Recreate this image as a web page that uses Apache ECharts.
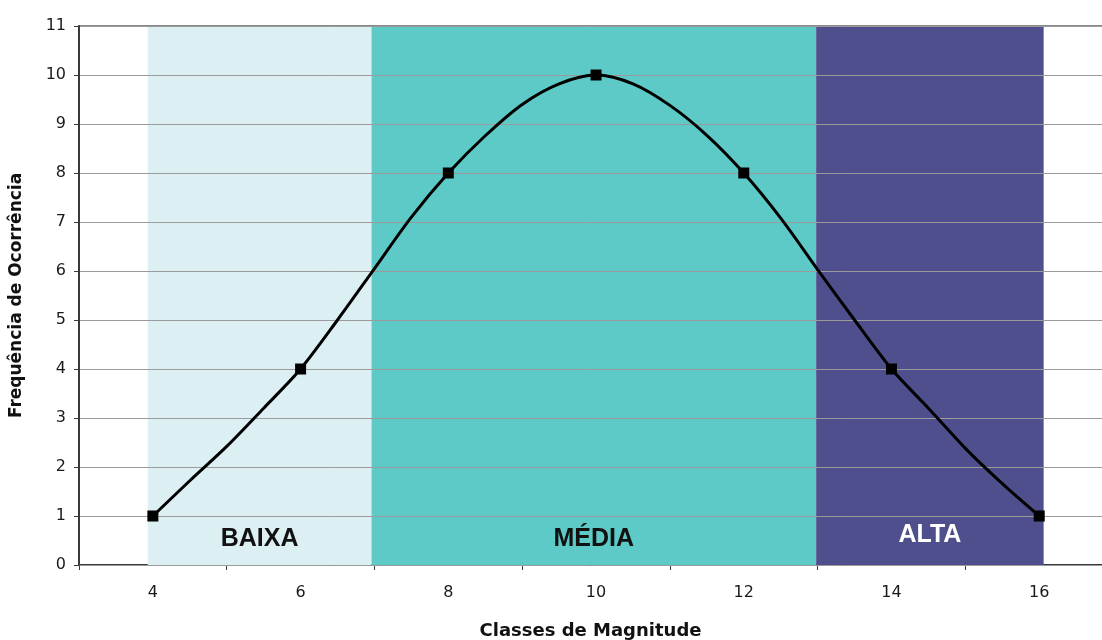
<!DOCTYPE html>
<html>
<head>
<meta charset="utf-8">
<script src="https://cdn.jsdelivr.net/npm/echarts@6/dist/echarts.min.js"></script>
<style>html,body{margin:0;padding:0;background:#fff;overflow:hidden}#c{width:1102px;height:640px}</style>
</head>
<body>
<div id="c"></div>
<script>
// Classes de magnitude and frequency of occurrence (curve)
const classes = [4, 4.5, 5, 5.5, 6, 6.5, 7, 7.5, 8, 8.5, 9, 9.5, 10, 10.5, 11, 11.5, 12, 12.5, 13, 13.5, 14, 14.5, 15, 15.5, 16];
const freq    = [1, 1.72, 2.42, 3.2, 4, 5, 6.05, 7.1, 8, 8.76, 9.4, 9.82, 10, 9.82, 9.38, 8.77, 8, 7.08, 6.03, 5, 4, 3.2, 2.38, 1.66, 1];
const markerClasses = [4, 6, 8, 10, 12, 14, 16];
const xLabelValues = [4, 6, 8, 10, 12, 14, 16];
const xTickValues = [3, 5, 7, 9, 11, 13, 15];
const bandNames = ['BAIXA', 'MÉDIA', 'ALTA'];
const bandStart = [3.93, 6.96, 12.98];
const bandEnd   = [6.96, 12.98, 16.06];
const bandColors = ['#dcf0f4', '#5ecac7', '#4f4f8e'];
const bandTextColors = ['#111111', '#111111', '#ffffff'];

const chart = echarts.init(document.getElementById('c'));
const points = classes.map((x, i) => [x, freq[i]]);

chart.setOption({
  animation: false,
  backgroundColor: '#ffffff',
  grid: { left: 79, top: 26, right: 0, bottom: 75, containLabel: false, outerBoundsMode: 'none' },
  xAxis: [{
    type: 'value', min: 3, max: 16.85, interval: 1,
    name: 'Classes de Magnitude', nameLocation: 'middle', nameGap: 57,
    nameTextStyle: { fontFamily: 'DejaVu Sans', fontWeight: 'bold', fontSize: 18, color: '#111' },
    axisLine: { show: true, lineStyle: { color: '#3a3a3a', width: 2 } },
    axisTick: { show: true, customValues: xTickValues, length: 5, lineStyle: { color: '#3a3a3a', width: 1 } },
    axisLabel: { customValues: xLabelValues, margin: 20, fontFamily: 'DejaVu Sans', fontSize: 16, color: '#1a1a1a' },
    splitLine: { show: false }
  }, {
    type: 'value', position: 'top', min: 3, max: 16.85,
    axisLine: { show: true, lineStyle: { color: '#8a8a8a', width: 2 } },
    axisTick: { show: false }, axisLabel: { show: false }, splitLine: { show: false }
  }],
  yAxis: {
    type: 'value', min: 0, max: 11, interval: 1, z: 3,
    name: 'Frequência de Ocorrência', nameLocation: 'middle', nameGap: 54,
    nameTextStyle: { fontFamily: 'DejaVu Sans', fontWeight: 'bold', fontSize: 17, color: '#111' },
    axisLine: { show: true, lineStyle: { color: '#3a3a3a', width: 2 } },
    axisTick: { show: true, length: 5, lineStyle: { color: '#3a3a3a' } },
    axisLabel: { margin: 13, fontFamily: 'DejaVu Sans', fontSize: 16, color: '#1a1a1a' },
    splitLine: { show: true, lineStyle: { color: '#9a9a9a', width: 1 } }
  },
  series: [{
    type: 'line', z: 1, silent: true, data: points, symbol: 'none',
    lineStyle: { opacity: 0 },
    markArea: {
      silent: true,
      data: bandNames.map((n, i) => [{
        name: n, xAxis: bandStart[i],
        itemStyle: { color: bandColors[i], opacity: 1 },
        label: { show: true, position: 'insideBottom', distance: i === 2 ? 17 : 13,
          fontFamily: 'Liberation Sans', fontWeight: 'bold', fontSize: 25, color: bandTextColors[i] }
      }, { xAxis: bandEnd[i] }])
    }
  }, {
    type: 'line', z: 5, data: points, smooth: 0.3,
    showAllSymbol: true,
    symbol: (v) => markerClasses.includes(v[0]) ? 'rect' : 'none',
    symbolSize: 11,
    itemStyle: { color: '#000' },
    lineStyle: { color: '#000', width: 3 }
  }]
});
</script>
</body>
</html>
